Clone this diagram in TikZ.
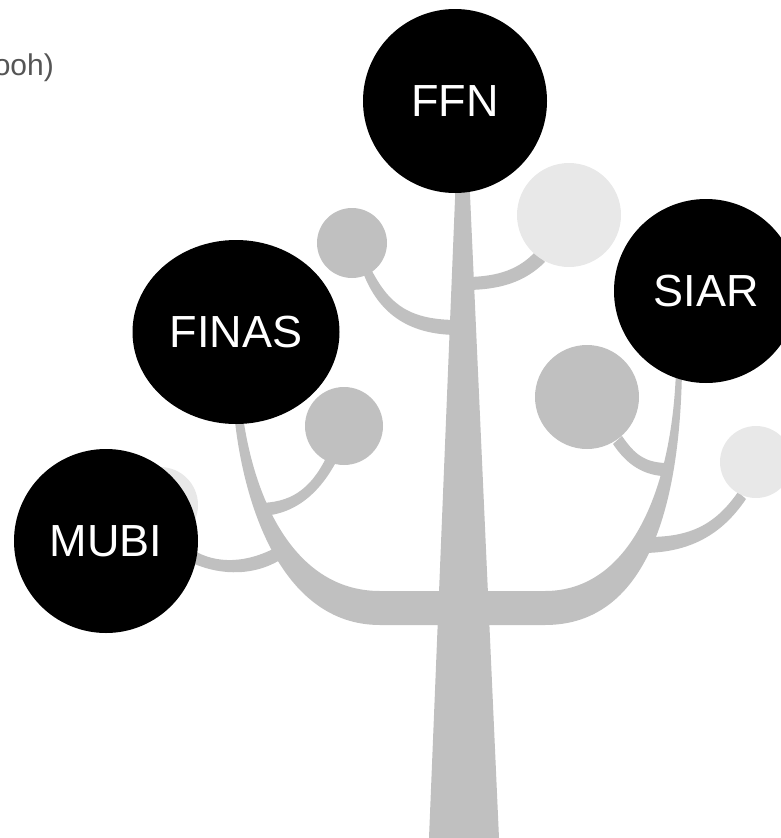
\documentclass[tikz,border=0pt]{standalone}
\usepackage{fontspec}
\setmainfont{Liberation Sans}
\usetikzlibrary{shapes.geometric}
\definecolor{twig}{HTML}{C0C0C0}
\definecolor{pale}{HTML}{E8E8E8}
\definecolor{notegray}{HTML}{555555}
\tikzstyle{leaf} = [circle, fill=black, 
text=white, 
minimum size=184pt, 
inner sep=0pt, 
font=\fontsize{45}{54}\selectfont]
\tikzstyle{leafoval} = [leaf, ellipse, minimum width=207pt, minimum height=184pt]
\tikzstyle{bud} = [circle, fill=twig, inner sep=0pt]
\tikzstyle{palebud} = [circle, fill=pale, inner sep=0pt]
\tikzstyle{wood} = [fill=twig]
\begin{document}
\begin{tikzpicture}[x=1pt, y=-1pt, node distance=231pt]
\useasboundingbox (0,0) rectangle (781,838);
\clip (0,0) rectangle (781,838);
% trunk
\fill[wood] (457,150) -- (468,150) -- (499,838) -- (429,838) -- cycle;
% arms
\fill[wood] (233,400) .. controls (240,500) and (280,625) .. (380,625) -- (545,625)
  .. controls (650,625) and (680,500) .. (682,370) -- (676,370)
  .. controls (672,490) and (630,591) .. (545,591) -- (380,591)
  .. controls (290,591) and (250,490) .. (241,400) -- cycle;
% twigs
\fill[wood] (372,271) .. controls (390,305) and (410,320) .. (458,320) -- (458,335) .. controls (405,335) and (378,310) .. (364,275) -- cycle;
\fill[wood] (465,277) .. controls (500,277) and (520,268) .. (535,252) -- (545,262) .. controls (525,282) and (500,290) .. (465,290) -- cycle;
\fill[wood] (326,458) .. controls (310,490) and (290,503) .. (258,503) -- (258,516) .. controls (295,516) and (320,492) .. (336,462) -- cycle;
\fill[wood] (190,548) .. controls (210,562) and (240,566) .. (275,548) -- (280,560) .. controls (250,578) and (215,574) .. (190,562) -- cycle;
\fill[wood] (622,436) .. controls (635,455) and (645,462) .. (665,463) -- (662,476) .. controls (640,474) and (625,462) .. (613,444) -- cycle;
\fill[wood] (738,492) .. controls (715,525) and (690,537) .. (648,537) -- (642,553) .. controls (695,553) and (725,530) .. (746,499) -- cycle;
% buds
\node (g1) [bud, minimum size=70pt] at (352,243) {};
\node (g2) [bud, minimum size=78pt] at (344,426) {};
\node (g3) [bud, minimum size=104pt] at (587,397) {};
\node (p1) [palebud, minimum size=104pt] at (569,215) {};
\node (p2) [palebud, minimum size=76pt] at (160,505) {};
\node (p3) [palebud, minimum size=72pt] at (756,462) {};
% leaves
\node (ffn) [leaf] at (455,101) {FFN};
\node (fin) [leafoval, below of=ffn, xshift=-219pt] {FINAS};
\node (siar) [leaf, below of=ffn, xshift=251pt, yshift=41pt] {SIAR};
\node (mubi) [leaf, below of=fin, xshift=-130pt, yshift=22pt] {MUBI};
%\node (title) at (0,75) {...};
\node (note) [text=notegray, inner sep=0pt, anchor=base east, font=\fontsize{30}{36}\selectfont] at (54,75) {ooh)};
\end{tikzpicture}
\end{document}
